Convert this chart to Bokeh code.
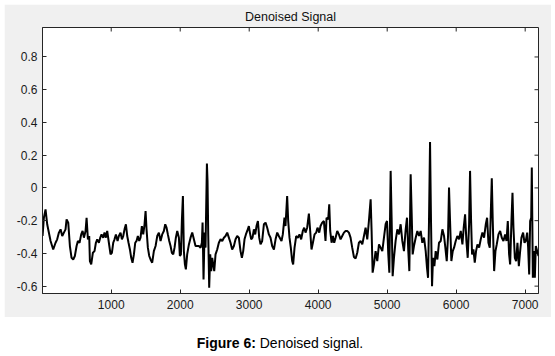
import math
from bokeh.plotting import figure
from bokeh.models import Range1d, FixedTicker, Div
from bokeh.layouts import column
from bokeh.embed import file_html
from bokeh.resources import INLINE

# ---- data ----
sample_a = [5, 24, 48, 72, 121, 159, 193, 217, 242, 266,
            290, 314, 338, 353, 377, 401, 425, 449, 473, 498,
            517, 541, 565, 585, 604, 628, 643, 662, 681, 691,
            710, 734, 758, 778, 797, 821, 841, 860, 884, 903,
            923, 942, 966, 990, 1010, 1029, 1048, 1068, 1092, 1111,
            1135, 1155, 1174, 1193, 1213, 1232, 1251, 1271, 1290, 1309,
            1329, 1348, 1367, 1386, 1406, 1425, 1444, 1464, 1483, 1498,
            1512, 1531, 1551, 1570, 1594, 1618, 1643, 1667, 1691, 1715,
            1739, 1763, 1783, 1802, 1821, 1841, 1860, 1879, 1899, 1918,
            1937, 1957, 1981, 1995, 2010, 2024, 2039, 2053, 2068, 2082,
            2101, 2126, 2150, 2174, 2198, 2222, 2246, 2271, 2295, 2314,
            2324, 2338, 2353, 2367, 2387, 2396, 2406, 2420, 2435, 2449,
            2464, 2478, 2493, 2512, 2536, 2560, 2585, 2609, 2633, 2657,
            2681, 2705, 2729, 2753, 2778, 2802, 2826, 2850, 2874, 2894,
            2913, 2932, 2952, 2971, 2995, 3010, 3029, 3048, 3068, 3087,
            3106, 3126, 3145, 3164, 3188, 3213, 3237, 3261, 3285, 3309,
            3333, 3358, 3382, 3406]
amp_a = [-0.294, -0.182, -0.131, -0.222, -0.324, -0.376, -0.335, -0.314, -0.273, -0.253,
         -0.294, -0.273, -0.253, -0.192, -0.212, -0.355, -0.427, -0.437, -0.416, -0.355,
         -0.324, -0.335, -0.284, -0.263, -0.304, -0.263, -0.182, -0.314, -0.294, -0.447,
         -0.467, -0.396, -0.386, -0.335, -0.314, -0.335, -0.304, -0.284, -0.304, -0.273,
         -0.304, -0.263, -0.335, -0.406, -0.396, -0.335, -0.314, -0.284, -0.324, -0.294,
         -0.273, -0.314, -0.294, -0.253, -0.222, -0.294, -0.335, -0.376, -0.427, -0.457,
         -0.406, -0.335, -0.324, -0.294, -0.324, -0.304, -0.233, -0.284, -0.222, -0.141,
         -0.253, -0.365, -0.416, -0.437, -0.457, -0.386, -0.355, -0.294, -0.273, -0.324,
         -0.284, -0.263, -0.222, -0.243, -0.284, -0.324, -0.355, -0.396, -0.406, -0.365,
         -0.304, -0.263, -0.304, -0.416, -0.406, -0.202, -0.049, -0.386, -0.467, -0.498,
         -0.406, -0.345, -0.304, -0.273, -0.314, -0.355, -0.355, -0.355, -0.365, -0.335,
         -0.212, -0.559, -0.273, -0.365, 0.149, 0.043, -0.284, -0.610, -0.406, -0.508,
         -0.427, -0.467, -0.508, -0.406, -0.376, -0.335, -0.314, -0.324, -0.304, -0.294,
         -0.273, -0.304, -0.335, -0.376, -0.355, -0.314, -0.294, -0.304, -0.386, -0.427,
         -0.386, -0.314, -0.284, -0.263, -0.233, -0.273, -0.314, -0.304, -0.253, -0.284,
         -0.233, -0.202, -0.304, -0.345, -0.324, -0.222, -0.212, -0.243, -0.284, -0.304,
         -0.355, -0.376, -0.314, -0.273]

sample_b = [3429, 3468, 3487, 3511, 3526, 3550, 3565, 3584, 3603, 3623,
            3637, 3657, 3681, 3705, 3729, 3753, 3777, 3797, 3816, 3840,
            3865, 3884, 3903, 3923, 3947, 3971, 3990, 4015, 4034, 4058,
            4082, 4106, 4121, 4145, 4160, 4174, 4194, 4213, 4232, 4252,
            4276, 4300, 4324, 4348, 4373, 4397, 4421, 4445, 4469, 4493,
            4518, 4542, 4566, 4590, 4614, 4639, 4663, 4687, 4711, 4735,
            4760, 4774, 4789, 4808, 4832, 4856, 4881, 4905, 4929, 4953,
            4977, 4997, 5016, 5031, 5050, 5064, 5079, 5098, 5122, 5147,
            5171, 5195, 5219, 5243, 5268, 5287, 5306, 5321, 5340, 5355,
            5369, 5388, 5413, 5437, 5461, 5485, 5509, 5534, 5558, 5577,
            5592, 5606, 5621, 5635, 5650, 5664, 5684, 5703, 5727, 5751,
            5776, 5800, 5824, 5843, 5863, 5882, 5896, 5911, 5930, 5950,
            5969, 5993, 6017, 6042, 6066, 6090, 6109, 6129, 6148, 6167,
            6187, 6201, 6216, 6230, 6250, 6269, 6288, 6308, 6332, 6356,
            6380, 6404, 6429, 6448, 6467, 6487, 6501, 6516, 6530, 6550,
            6569, 6588, 6613, 6637, 6661, 6685, 6709, 6729, 6748, 6767,
            6782, 6801, 6816, 6830, 6850, 6869, 6888, 6908, 6927, 6946,
            6970, 6990, 7009, 7029, 7043, 7058, 7072, 7087, 7096, 7111,
            7126, 7140, 7154, 7174, 7193]
amp_b = [-0.294, -0.324, -0.284, -0.182, -0.233, -0.049, -0.202, -0.304, -0.365, -0.447,
         -0.467, -0.365, -0.294, -0.304, -0.284, -0.314, -0.263, -0.243, -0.273, -0.243,
         -0.157, -0.263, -0.376, -0.335, -0.284, -0.273, -0.243, -0.273, -0.233, -0.212,
         -0.202, -0.324, -0.182, -0.192, -0.100, -0.263, -0.335, -0.294, -0.335, -0.304,
         -0.263, -0.284, -0.314, -0.294, -0.273, -0.263, -0.263, -0.273, -0.304, -0.365,
         -0.422, -0.431, -0.396, -0.335, -0.324, -0.345, -0.294, -0.243, -0.314, -0.202,
         -0.069, -0.263, -0.518, -0.467, -0.386, -0.447, -0.345, -0.365, -0.386, -0.304,
         -0.222, -0.202, -0.406, -0.518, 0.104, -0.182, -0.539, -0.427, -0.324, -0.253,
         -0.284, -0.222, -0.324, -0.386, -0.253, -0.182, -0.386, -0.508, 0.084, -0.161,
         -0.406, -0.355, -0.304, -0.263, -0.294, -0.263, -0.335, -0.304, -0.386, -0.488,
         -0.549, -0.202, 0.281, -0.202, -0.600, -0.427, -0.478, -0.386, -0.437, -0.335,
         -0.324, -0.253, -0.294, -0.365, -0.447, -0.294, 0.002, -0.202, -0.447, -0.386,
         -0.365, -0.324, -0.294, -0.314, -0.263, -0.345, -0.243, -0.161, -0.324, -0.427,
         -0.222, 0.104, -0.202, -0.406, -0.376, -0.457, -0.386, -0.345, -0.365, -0.314,
         -0.273, -0.304, -0.222, -0.182, -0.335, -0.365, -0.161, 0.059, -0.202, -0.508,
         -0.386, -0.345, -0.284, -0.263, -0.304, -0.324, -0.284, -0.324, -0.202, -0.406,
         -0.467, -0.202, -0.029, -0.243, -0.427, -0.447, -0.335, -0.478, -0.386, -0.304,
         -0.273, -0.335, -0.324, -0.273, -0.365, -0.529, -0.202, -0.182, 0.124, -0.549,
         -0.386, -0.549, -0.355, -0.386, -0.416]

x_ticks = [1000, 2000, 3000, 4000, 5000, 6000, 7000]
x_tick_labels = ["1000", "2000", "3000", "4000", "5000", "6000", "7000"]
y_ticks = [-0.6, -0.4, -0.2, 0, 0.2, 0.4, 0.6, 0.8]
y_tick_labels = ["-0.6", "-0.4", "-0.2", "0", "0.2", "0.4", "0.6", "0.8"]
x_limits = (4, 7193)
y_limits = (-0.645, 0.98)

title_text = "Denoised Signal"
caption_bold = "Figure 6:"
caption_rest = "Denoised signal."

assert len(sample_a) == len(amp_a), (len(sample_a), len(amp_a))
assert len(sample_b) == len(amp_b), (len(sample_b), len(amp_b))
xs = sample_a + sample_b
ys = amp_a + amp_b

FONT = "Liberation Sans"
PANEL = "#F0F0F0"
AXC = "#262626"

p = figure(width=547, height=313, output_backend="svg", toolbar_location=None,
           x_range=Range1d(*x_limits), y_range=Range1d(*y_limits),
           min_border_left=38, min_border_right=13, min_border_top=23,
           min_border_bottom=24, margin=(4, 4, 0, 4),
           border_fill_color=PANEL, background_fill_color="white",
           outline_line_color=AXC, outline_line_width=1)
p.grid.visible = False

p.title.text = title_text
p.title.align = "center"
p.title.vertical_align = "top"
p.title.text_font = FONT
p.title.text_font_size = "12.5px"
p.title.text_font_style = "normal"
p.title.text_color = "#111111"
p.title.standoff = 4

def style_axis(ax, ticks, labels):
    ax.ticker = FixedTicker(ticks=ticks)
    ax.major_label_overrides = {t: l for t, l in zip(ticks, labels)}
    ax.major_tick_in = 4
    ax.major_tick_out = 0
    ax.minor_tick_in = 0
    ax.minor_tick_out = 0
    ax.axis_line_color = AXC
    ax.major_tick_line_color = AXC
    ax.major_label_text_font = FONT
    ax.major_label_text_font_size = "12px"
    ax.major_label_text_color = "#1a1a1a"

style_axis(p.xaxis[0], x_ticks, x_tick_labels)
p.xaxis[0].major_label_standoff = 6
style_axis(p.yaxis[0], y_ticks, y_tick_labels)
p.yaxis[0].major_label_standoff = 5

# inward ticks on the top and right edges of the box (clipped to the frame)
p.scatter(x_ticks, [y_limits[1]] * len(x_ticks), marker="dash", size=8,
          angle=math.pi / 2, line_color=AXC, line_width=1)
p.scatter([x_limits[1]] * len(y_ticks), y_ticks, marker="dash", size=8,
          line_color=AXC, line_width=1)

p.line(xs, ys, line_color="black", line_width=2)

caption = Div(
    text=f"<b>{caption_bold}</b> {caption_rest}",
    width=555, height=39, margin=(0, 0, 0, 0),
    styles={"text-align": "center", "font-family": FONT, "font-size": "14px",
            "color": "#000000", "padding-top": "16px", "padding-left": "5px",
            "width": "555px", "box-sizing": "border-box"},
)

layout = column(p, caption, spacing=0)
open("out.html", "w").write(file_html(layout, INLINE))
